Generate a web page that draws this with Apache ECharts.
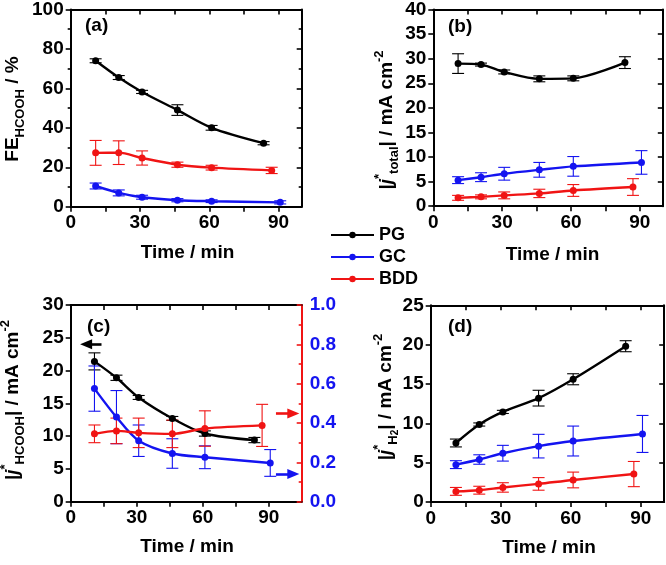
<!DOCTYPE html>
<html><head><meta charset="utf-8">
<script src="https://cdn.jsdelivr.net/npm/echarts@6/dist/echarts.min.js"></script>
<style>html,body{margin:0;padding:0;background:#fff}#c{width:666px;height:565px}</style>
</head><body><div id="c"></div><script>
// ---------- data ----------
const seriesNames = ['PG', 'GC', 'BDD'];
const timePG  = [10.8, 20.8, 30.9, 46.2, 61, 83.5];
const timeGC  = [10.8, 20.8, 30.9, 46.2, 61, 90.7];
const timeBDD = [10.8, 20.8, 30.9, 46.2, 61, 87];
const xTickLabels = [0, 30, 60, 90];
const xTicks = [0, 15, 30, 45, 60, 75, 90];

// (a) FE_HCOOH / %
const feHCOOH_PG  = [74, 65.5, 58.2, 49, 40, 32.2];
const feHCOOH_PG_err  = [1, 1, 0.8, 2.7, 1.2, 0.8];
const feHCOOH_GC  = [10.5, 7, 4.8, 3.3, 2.8, 2.2];
const feHCOOH_GC_err  = [1.5, 1.5, 1, 0.8, 0.7, 0.8];
const feHCOOH_BDD = [27.3, 27.4, 24.7, 21.3, 19.8, 18.4];
const feHCOOH_BDD_err = [6.3, 6, 3.6, 1.3, 1.2, 1.6];

// (b) |j*total| / mA cm-2
const total_PG  = [29, 28.8, 27.3, 25.9, 26, 29.2];
const total_PG_err  = [2, 0.3, 0.4, 0.6, 0.5, 1.2];
const total_GC  = [5.3, 5.9, 6.6, 7.4, 8.1, 8.9];
const total_GC_err  = [0.7, 0.9, 1.3, 1.5, 2, 2.4];
const total_BDD = [1.7, 1.9, 2.2, 2.6, 3.2, 3.9];
const total_BDD_err = [0.5, 0.4, 0.7, 0.85, 1.2, 1.7];

// (c) |j*HCOOH| (PG left axis, GC/BDD right axis)
const hcooh_PG  = [21.4, 18.9, 15.9, 12.7, 10.4, 9.4];
const hcooh_PG_err  = [1.3, 0.4, 0.3, 0.3, 0.4, 0.4];
const hcooh_GC  = [0.575, 0.43, 0.31, 0.245, 0.226, 0.197];
const hcooh_GC_err  = [0.115, 0.135, 0.08, 0.075, 0.058, 0.068];
const hcooh_BDD = [0.345, 0.36, 0.35, 0.345, 0.372, 0.388];
const hcooh_BDD_err = [0.045, 0.065, 0.075, 0.07, 0.09, 0.107];

// (d) |j*H2|
const h2_PG  = [7.5, 9.85, 11.45, 13.2, 15.6, 19.8];
const h2_PG_err  = [0.5, 0.2, 0.2, 1, 0.7, 0.7];
const h2_GC  = [4.75, 5.4, 6.2, 7.1, 7.75, 8.65];
const h2_GC_err  = [0.5, 0.6, 1.0, 1.5, 1.9, 2.35];
const h2_BDD = [1.35, 1.5, 1.85, 2.3, 2.8, 3.55];
const h2_BDD_err = [0.5, 0.5, 0.6, 0.8, 1.0, 1.6];

// arrows in (c): [fromX, toX, y]
const arrowLeft  = [14, 7, 24];
const arrowRed   = [93.3, 101.2, 0.449];
const arrowBlue  = [93.3, 101.2, 0.141];

// ---------- style ----------
const FF = '"Liberation Sans", Arial, Helvetica, sans-serif';
const COLORS = { PG: '#000000', GC: '#1414f0', BDD: '#f01414' };
const times = { PG: timePG, GC: timeGC, BDD: timeBDD };

const panels = [
  { grid: { left: 70.7, top: 6.7, width: 231, height: 200 }, xMax: 100, yMax: 100, yInt: 20, yMinor: true,
    vals: { PG: feHCOOH_PG, GC: feHCOOH_GC, BDD: feHCOOH_BDD },
    errs: { PG: feHCOOH_PG_err, GC: feHCOOH_GC_err, BDD: feHCOOH_BDD_err } },
  { grid: { left: 433.3, top: 6.7, width: 229.5, height: 199.5 }, xMax: 100, yMax: 40, yInt: 5, yMinor: false,
    vals: { PG: total_PG, GC: total_GC, BDD: total_BDD },
    errs: { PG: total_PG_err, GC: total_GC_err, BDD: total_BDD_err } },
  { grid: { left: 70.7, top: 305, width: 231, height: 196.7 }, xMax: 105, yMax: 30, yInt: 5, yMinor: false, dual: true,
    vals: { PG: hcooh_PG, GC: hcooh_GC, BDD: hcooh_BDD },
    errs: { PG: hcooh_PG_err, GC: hcooh_GC_err, BDD: hcooh_BDD_err } },
  { grid: { left: 430.7, top: 305.3, width: 233.5, height: 196.7 }, xMax: 100, yMax: 25, yInt: 5, yMinor: false,
    vals: { PG: h2_PG, GC: h2_GC, BDD: h2_BDD },
    errs: { PG: h2_PG_err, GC: h2_GC_err, BDD: h2_BDD_err } }
];

const lab = { color: '#000', fontSize: 19, fontWeight: 'bold', fontFamily: FF };
const axLine = (c) => ({ show: true, onZero: false, lineStyle: { color: c || '#000', width: 2 } });

const grids = [], xAxes = [], yAxes = [], series = [];
panels.forEach((p, i) => {
  grids.push(Object.assign({ containLabel: false }, p.grid));
  xAxes.push({
    type: 'value', gridIndex: i, position: 'bottom', min: 0, max: p.xMax, interval: 15,
    axisLine: axLine(), splitLine: { show: false },
    axisTick: { show: true, inside: false, length: 5, customValues: xTicks, lineStyle: { color: '#000', width: 1.6 } },
    axisLabel: Object.assign({ margin: 7, customValues: xTickLabels }, lab)
  });
  xAxes.push({
    type: 'value', gridIndex: i, position: 'top', min: 0, max: p.xMax, interval: 15,
    axisLine: axLine(), splitLine: { show: false },
    axisTick: { show: true, inside: true, length: 5, customValues: xTicks, lineStyle: { color: '#000', width: 1.6 } },
    axisLabel: { show: false }
  });
  yAxes.push({
    type: 'value', gridIndex: i, position: 'left', min: 0, max: p.yMax, interval: p.yInt,
    axisLine: axLine(), splitLine: { show: false },
    axisTick: { show: true, inside: false, length: 5, lineStyle: { color: '#000', width: 1.6 } },
    minorTick: { show: p.yMinor, splitNumber: 2, length: 3, lineStyle: { color: '#000', width: 1.6 } },
    axisLabel: Object.assign({ margin: 7 }, lab)
  });
  if (p.dual) {
    yAxes.push({
      type: 'value', gridIndex: i, position: 'right', min: 0, max: 1, interval: 0.2,
      axisLine: axLine(COLORS.BDD), splitLine: { show: false },
      axisTick: { show: true, inside: true, length: 5, lineStyle: { color: COLORS.BDD, width: 1.6 } },
      minorTick: { show: true, splitNumber: 2, length: 3, lineStyle: { color: COLORS.BDD, width: 1.6 } },
      axisLabel: Object.assign({}, lab, { color: COLORS.GC, margin: 8, formatter: v => v.toFixed(1) })
    });
  } else {
    yAxes.push({
      type: 'value', gridIndex: i, position: 'right', min: 0, max: p.yMax, interval: p.yInt,
      axisLine: axLine(), splitLine: { show: false },
      axisTick: { show: true, inside: true, length: 5, lineStyle: { color: '#000', width: 1.6 } },
      minorTick: { show: p.yMinor, splitNumber: 2, length: 3, lineStyle: { color: '#000', width: 1.6 } },
      axisLabel: { show: false }
    });
  }
  seriesNames.forEach(name => {
    const yIdx = (p.dual && name !== 'PG') ? 2 * i + 1 : 2 * i;
    const t = times[name], v = p.vals[name], e = p.errs[name];
    const col = COLORS[name];
    series.push({
      type: 'custom', name: name + ' error', xAxisIndex: 2 * i, yAxisIndex: yIdx, z: 2, silent: true,
      data: t.map((x, k) => [x, v[k], e[k]]),
      encode: { x: 0, y: 1 },
      renderItem: (params, api) => {
        const x = api.value(0), y = api.value(1), er = api.value(2);
        const a = api.coord([x, y + er]), b = api.coord([x, y - er]);
        const w = 6, st = { stroke: col, lineWidth: 1.1 };
        return { type: 'group', children: [
          { type: 'line', shape: { x1: a[0], y1: a[1], x2: b[0], y2: b[1] }, style: st },
          { type: 'line', shape: { x1: a[0] - w, y1: a[1], x2: a[0] + w, y2: a[1] }, style: st },
          { type: 'line', shape: { x1: b[0] - w, y1: b[1], x2: b[0] + w, y2: b[1] }, style: st }
        ]};
      }
    });
    const s = {
      type: 'line', name: name, xAxisIndex: 2 * i, yAxisIndex: yIdx, z: 3,
      data: t.map((x, k) => [x, v[k]]), smooth: 0.3,
      symbol: 'circle', symbolSize: 7,
      lineStyle: { color: col, width: 2.4 }, itemStyle: { color: col }
    };
    if (p.dual) {
      const arr = name === 'PG' ? arrowLeft : (name === 'GC' ? arrowBlue : arrowRed);
      s.markLine = {
        silent: true, symbol: ['none', 'triangle'], symbolSize: [10, 12], label: { show: false },
        lineStyle: { color: col, width: 2.6, type: 'solid' }, emphasis: { disabled: true },
        data: [[{ coord: [arr[0], arr[2]] }, { coord: [arr[1], arr[2]] }]]
      };
    }
    series.push(s);
  });
});

const rich = {
  n:  { fontSize: 19, fontWeight: 'bold', fontFamily: FF, fill: '#000', lineHeight: 28 },
  i:  { fontSize: 19, fontWeight: 'bold', fontStyle: 'italic', fontFamily: FF, fill: '#000', lineHeight: 28 },
  sb: { fontSize: 13, fontWeight: 'bold', fontFamily: FF, fill: '#000', verticalAlign: 'bottom', lineHeight: 16 },
  sp: { fontSize: 13, fontWeight: 'bold', fontFamily: FF, fill: '#000', verticalAlign: 'top', lineHeight: 15 },
  ss: { fontSize: 10, fontWeight: 'bold', fontFamily: FF, fill: '#000', verticalAlign: 'bottom', lineHeight: 12 }
};
const vTitle = (x, y, text) => ({ type: 'text', x, y, rotation: Math.PI / 2, silent: true,
  style: { text, rich, align: 'center', verticalAlign: 'middle' } });
const hTitle = (x, y, text, align) => ({ type: 'text', x, y, silent: true,
  style: { text, fontSize: 19, fontWeight: 'bold', fontFamily: FF, fill: '#000', align: align || 'center', verticalAlign: 'middle' } });

const option = {
  animation: false,
  backgroundColor: '#fff',
  grid: grids, xAxis: xAxes, yAxis: yAxes, series,
  legend: {
    data: seriesNames, orient: 'vertical', left: 325, top: 221,
    itemWidth: 43, itemHeight: 8, itemGap: 4, selectedMode: false,
    textStyle: { fontSize: 18, fontWeight: 'bold', fontFamily: FF, color: '#000' }
  },
  graphic: [
    vTitle(13, 109, '{n|FE}{sb|HCOOH}{n| / %}'),
    vTitle(387, 120, '{n||}{i|j}{sp|*}{sb|total}{n|| / mA cm}{sp|-2}'),
    vTitle(13, 400, '{n||}{i|j}{sp|*}{sb|HCOOH}{n|| / mA cm}{sp|-2}'),
    vTitle(386, 397, '{n||}{i|j}{sp|*}{sb|H}{ss|2}{n|| / mA cm}{sp|-2}'),
    hTitle(187.5, 253, 'Time / min'),
    hTitle(552.5, 255, 'Time / min'),
    hTitle(187, 547, 'Time / min'),
    hTitle(549, 548, 'Time / min'),
    hTitle(85, 26, '(a)', 'left'),
    hTitle(448, 27, '(b)', 'left'),
    hTitle(87, 327, '(c)', 'left'),
    hTitle(448, 327, '(d)', 'left')
  ]
};
const chart = echarts.init(document.getElementById('c'), null, { renderer: 'canvas' });
chart.setOption(option);
</script></body></html>
